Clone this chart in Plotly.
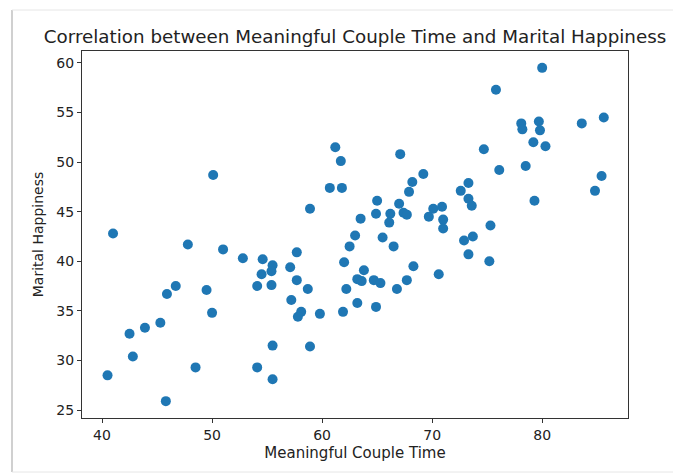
import plotly.graph_objects as go

couple_time = [40.5, 41.0, 42.5, 42.8, 43.9, 45.3, 45.9, 45.8, 46.7, 47.8,
               48.5, 49.5, 50.0, 50.1, 51.0, 52.8, 54.6, 55.5, 54.5, 55.4,
               54.1, 55.4, 55.5, 54.1, 55.5, 61.2, 61.7, 67.1, 69.2, 68.2,
               67.9, 60.7, 61.8, 58.9, 65.0, 67.0, 64.9, 66.2, 66.1, 67.4,
               67.7, 63.5, 63.0, 65.5, 62.5, 66.5, 69.7, 70.1, 70.9, 71.0,
               71.0, 72.6, 80.0, 75.8, 78.1, 78.2, 79.7, 79.8, 83.6, 85.6,
               79.2, 80.3, 74.7, 78.5, 76.1, 85.4, 84.8, 73.3, 73.3, 73.6,
               79.3, 75.3, 73.7, 72.9, 73.3, 75.2, 57.7, 57.1, 57.7, 58.7,
               57.2, 58.1, 57.8, 59.8, 62.0, 63.8, 63.2, 63.6, 62.2, 64.7,
               65.3, 61.9, 63.2, 64.9, 68.3, 67.7, 66.8, 70.6, 58.9]
happiness = [28.5, 42.8, 32.7, 30.4, 33.3, 33.8, 36.7, 25.9, 37.5, 41.7,
             29.3, 37.1, 34.8, 48.7, 41.2, 40.3, 40.2, 39.6, 38.7, 39.0,
             37.5, 37.6, 31.5, 29.3, 28.1, 51.5, 50.1, 50.8, 48.8, 48.0,
             47.0, 47.4, 47.4, 45.3, 46.1, 45.8, 44.8, 44.8, 43.9, 44.9,
             44.7, 44.3, 42.6, 42.4, 41.5, 41.5, 44.5, 45.3, 45.5, 44.2,
             43.3, 47.1, 59.5, 57.3, 53.9, 53.3, 54.1, 53.2, 53.9, 54.5,
             52.0, 51.6, 51.3, 49.6, 49.2, 48.6, 47.1, 47.9, 46.3, 45.6,
             46.1, 43.6, 42.5, 42.1, 40.7, 40.0, 40.9, 39.4, 38.1, 37.2,
             36.1, 34.9, 34.4, 34.7, 39.9, 39.1, 38.2, 38.0, 37.2, 38.1,
             37.8, 34.9, 35.8, 35.4, 39.5, 38.1, 37.2, 38.7, 31.4]

x_ticks = [40, 50, 60, 70, 80]
y_ticks = [25, 30, 35, 40, 45, 50, 55, 60]

fig = go.Figure()
fig.add_trace(go.Scatter(
    x=couple_time, y=happiness, mode="markers",
    marker=dict(color="#1f77b4", size=10, line=dict(width=0)),
    showlegend=False,
))

axis_common = dict(
    showgrid=False, zeroline=False, showline=True, mirror=True,
    linecolor="#333333", linewidth=1, ticks="outside", ticklen=4,
    tickcolor="#333333", tickwidth=1,
    tickfont=dict(family="DejaVu Sans", size=14, color="#222222"),
)

fig.update_xaxes(range=[38.18, 87.8], tickvals=x_ticks,
                 title=dict(text="Meaningful Couple Time",
                            font=dict(family="DejaVu Sans", size=15, color="#222222"),
                            standoff=5),
                 **axis_common)
fig.update_yaxes(range=[24.2, 61.2], tickvals=y_ticks,
                 title=dict(text="Marital Happiness",
                            font=dict(family="DejaVu Sans", size=14, color="#222222"),
                            standoff=9),
                 **axis_common)

fig.update_layout(
    width=673, height=475,
    margin=dict(l=82, r=45, t=51, b=57),
    paper_bgcolor="white", plot_bgcolor="white",
    title=dict(text="Correlation between Meaningful Couple Time and Marital Happiness",
               font=dict(family="DejaVu Sans", size=18.3, color="#222222"),
               x=0.5, xref="paper", xanchor="center",
               y=1 - 37 / 475, yref="container", yanchor="middle"),
)

# faint screenshot frame
fig.add_shape(type="line", xref="paper", yref="paper",
              x0=-70 / 546, x1=-70 / 546, y0=-54 / 367, y1=41 / 367 + 1,
              line=dict(color="#d0d0d0", width=2))
fig.add_shape(type="line", xref="paper", yref="paper",
              x0=-70 / 546, x1=1 + 45 / 546, y0=1 + 41 / 367, y1=1 + 41 / 367,
              line=dict(color="#e6e6e6", width=1))
fig.add_shape(type="line", xref="paper", yref="paper",
              x0=-70 / 546, x1=1 + 45 / 546, y0=-54 / 367, y1=-54 / 367,
              line=dict(color="#e6e6e6", width=1))

fig.write_html("out.html")
